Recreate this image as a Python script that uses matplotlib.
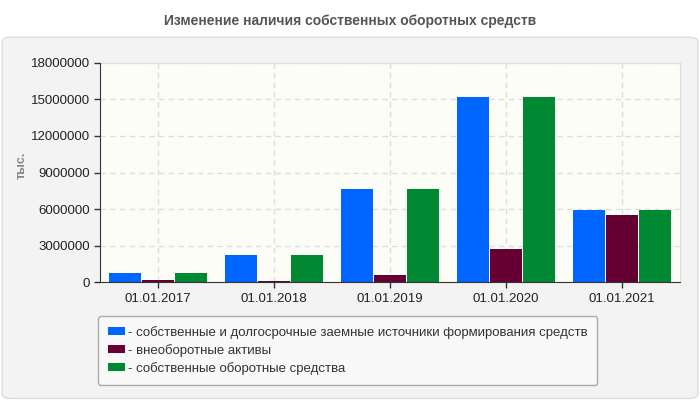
#!/usr/bin/env python3

import matplotlib

matplotlib.use("Agg")
import matplotlib.pyplot as plt
import numpy as np
from matplotlib.patches import FancyBboxPatch, Patch, Rectangle

plt.rcParams["font.family"] = ["Liberation Sans", "DejaVu Sans"]
plt.rcParams["hatch.color"] = "#ecece4"
plt.rcParams["hatch.linewidth"] = 0.6

dates = ["01.01.2017", "01.01.2018", "01.01.2019", "01.01.2020", "01.01.2021"]
own_and_longterm = [770000, 2260000, 7650000, 15190000, 5930000]
noncurrent_assets = [190000, 110000, 630000, 2730000, 5540000]
own_working_capital = [770000, 2260000, 7650000, 15190000, 5930000]

labels = [
    "- собственные и долгосрочные заемные источники формирования средств",
    "- внеоборотные активы",
    "- собственные оборотные средства",
]
colors = ["#0066ff", "#660033", "#008833"]
yticks = [0, 3000000, 6000000, 9000000, 12000000, 15000000, 18000000]

fig = plt.figure(figsize=(7, 4), dpi=100)
fig.patch.set_facecolor("white")

# grey panel under the title
panel = FancyBboxPatch(
    (0.003, 0.004), 0.994, 0.903,
    boxstyle="round,pad=0,rounding_size=0.012",
    transform=fig.transFigure, facecolor="#f3f3f3", edgecolor="#dddddd",
    linewidth=1.0, zorder=-10,
)
fig.patches.append(panel)

fig.text(0.5, 0.948, "Изменение наличия собственных оборотных средств",
         ha="center", va="center", fontsize=10, fontweight="bold", color="#555555")

ax = fig.add_axes([100 / 700, 1 - 282.3 / 400, 580 / 700, 219.6 / 400])
ax.set_facecolor("#fdfdf8")
ax.add_patch(Rectangle((0, 0), 1, 1, transform=ax.transAxes, facecolor="none",
                       edgecolor="none", hatch="//////", zorder=0))

x = np.arange(len(dates))
w = 0.276
step = 0.2845
for i, (vals, c) in enumerate(zip([own_and_longterm, noncurrent_assets, own_working_capital], colors)):
    ax.bar(x + (i - 1) * step, vals, width=w, color=c, zorder=3, linewidth=0)

ax.set_xlim(-0.5, len(dates) - 0.5)
ax.set_ylim(0, 18000000)
ax.set_xticks(x)
ax.set_xticklabels(dates)
ax.set_yticks(yticks)
ax.set_yticklabels([str(v) for v in yticks])
ax.tick_params(axis="both", labelsize=9.5, colors="#333333", length=4, width=1,
               labelcolor="#222222")

ax.grid(True, color="#dddddd", linestyle=(0, (4, 3)), linewidth=1, zorder=1)
ax.set_axisbelow(True)
for s in ["top", "right"]:
    ax.spines[s].set_color("#dddddd")
for s in ["left", "bottom"]:
    ax.spines[s].set_color("#333333")
    ax.spines[s].set_zorder(4)

fig.text(22 / 700, 1 - 165 / 400, "тыс.", rotation=90, ha="center", va="center",
         fontsize=9, fontweight="bold", color="#888888")

handles = [Patch(facecolor=c, edgecolor="none") for c in colors]
leg = fig.legend(handles, labels, loc="upper left",
                 bbox_to_anchor=(98 / 700, 1 - 316 / 400),
                 fontsize=9.5, frameon=True, fancybox=True, handlelength=1.3,
                 handleheight=0.5, handletextpad=0.2, labelspacing=0.38,
                 borderpad=0.75, borderaxespad=0)
leg.get_frame().set_facecolor("#f9f9f9")
leg.get_frame().set_edgecolor("#aaaaaa")
leg.get_frame().set_alpha(1)
for t in leg.get_texts():
    t.set_color("#333333")

fig.savefig("out.png", dpi=100, facecolor=fig.get_facecolor())
